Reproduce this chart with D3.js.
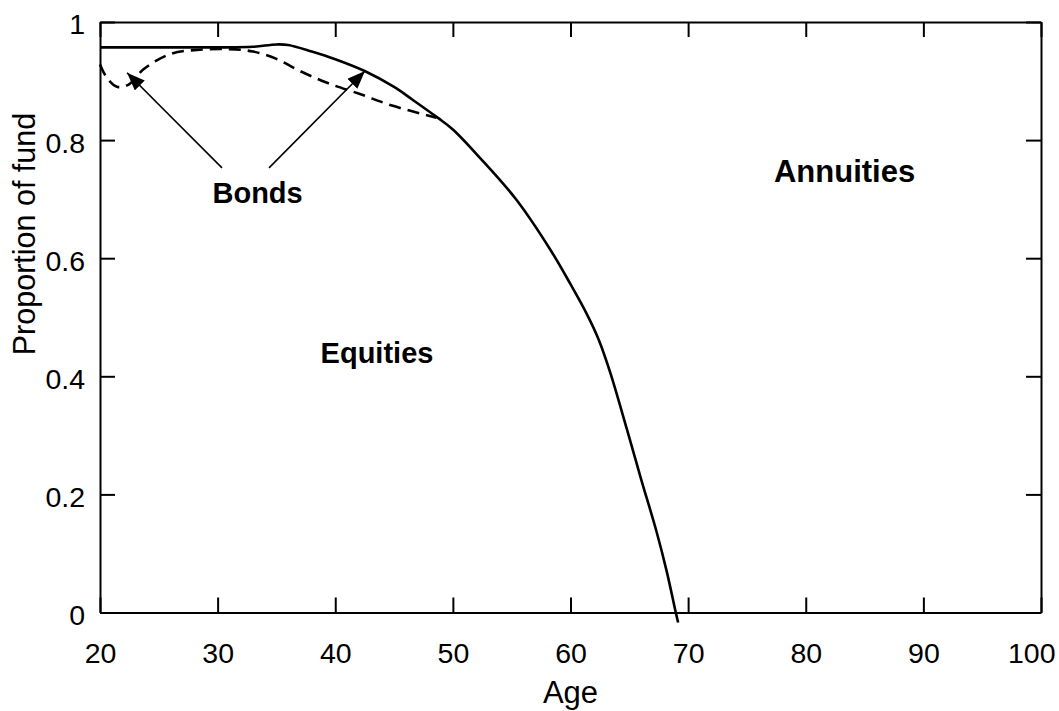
<!DOCTYPE html>
<html>
<head>
<meta charset="utf-8">
<script src="https://cdn.jsdelivr.net/npm/d3@7"></script>
<style>
  html, body { margin: 0; padding: 0; background: #fff; }
  svg text { font-family: "Liberation Sans", Arial, Helvetica, sans-serif; fill: #000; }
</style>
</head>
<body>
<svg id="chart" width="1059" height="711"></svg>
<script>
// ---- data ----
const equityAges   = [20, 25, 30, 33, 35, 36, 38, 40, 42.5, 45, 46.6, 48.7, 50, 52.3, 55.4, 58.3, 60, 61.4, 62.4, 63.4, 64.8, 66, 67.3, 68.2, 68.95, 69.15];
const equityShare  = [0.957, 0.957, 0.957, 0.958, 0.962, 0.961, 0.95, 0.937, 0.917, 0.89, 0.868, 0.838, 0.818, 0.770, 0.699, 0.614, 0.556, 0.505, 0.462, 0.405, 0.31, 0.226, 0.138, 0.068, 0.0, -0.017];
const bondAges     = [20, 20.6, 21.5, 22.5, 23.7, 26, 28.5, 31, 33, 35, 37, 39.3, 42.1, 44.9, 48.6];
const bondShare    = [0.928, 0.905, 0.890, 0.895, 0.920, 0.946, 0.953, 0.954, 0.950, 0.9375, 0.917, 0.897, 0.878, 0.858, 0.838];
const xTicks       = [20, 30, 40, 50, 60, 70, 80, 90, 100];
const xTickLabels  = ["20", "30", "40", "50", "60", "70", "80", "90", "100"];
const yTicks       = [0, 0.2, 0.4, 0.6, 0.8, 1];
const yTickLabels  = ["0", "0.2", "0.4", "0.6", "0.8", "1"];
// arrows: [tailAge, tailValue, tipAge, tipValue]
const arrows       = [[30.37, 0.753, 22.3, 0.914], [34.37, 0.753, 42.53, 0.917]];
// region labels: [text, age, value]
const regionLabels = [["Bonds", 33.4, 0.693], ["Equities", 43.55, 0.4225], ["Annuities", 83.3, 0.729]];

// ---- layout ----
const svg = d3.select("#chart");
const mLeft = 100, mRight = 1041, mTop = 22, mBottom = 612.5;
const x = d3.scaleLinear().domain([20, 100]).range([mLeft, mRight]);
const y = d3.scaleLinear().domain([0, 1]).range([mBottom, mTop]);
const tickLen = 15;

// axes
const xb = svg.append("g").attr("transform", `translate(0,${mBottom})`)
  .call(d3.axisBottom(x).tickValues(xTicks).tickFormat((d, i) => xTickLabels[i])
        .tickSizeInner(-tickLen).tickSizeOuter(0).tickPadding(30));
const yl = svg.append("g").attr("transform", `translate(${mLeft},0)`)
  .call(d3.axisLeft(y).tickValues(yTicks).tickFormat((d, i) => yTickLabels[i])
        .tickSizeInner(-tickLen).tickSizeOuter(0).tickPadding(15));
const xt = svg.append("g").attr("transform", `translate(0,${mTop})`)
  .call(d3.axisTop(x).tickValues(xTicks).tickFormat("").tickSizeInner(-tickLen).tickSizeOuter(0));
const yr = svg.append("g").attr("transform", `translate(${mRight},0)`)
  .call(d3.axisRight(y).tickValues(yTicks).tickFormat("").tickSizeInner(-tickLen).tickSizeOuter(0));

[xb, yl, xt, yr].forEach(g => {
  g.selectAll("path.domain").attr("stroke", "#000").attr("stroke-width", 2);
  g.selectAll(".tick line").attr("stroke", "#000").attr("stroke-width", 2);
  g.selectAll(".tick text").attr("font-size", 28.5).attr("font-family", "Liberation Sans, Arial, sans-serif").attr("fill", "#000");
});
yl.selectAll(".tick text").attr("dy", "0.42em");
// keep the last x label inside the page
xb.selectAll(".tick text").filter(d => d === 100).attr("text-anchor", "end").attr("x", 14);

// axis titles
svg.append("text").attr("x", (mLeft + mRight) / 2).attr("y", 703).attr("text-anchor", "middle")
  .attr("font-size", 31).text("Age");
svg.append("text").attr("transform", `translate(35,${234}) rotate(-90)`).attr("text-anchor", "middle")
  .attr("font-size", 30.5).text("Proportion of fund");

// lines
const line = d3.line().x(d => x(d[0])).y(d => y(d[1])).curve(d3.curveCatmullRom.alpha(0.5));
svg.append("path").datum(equityAges.map((a, i) => [a, equityShare[i]]))
  .attr("d", line).attr("fill", "none").attr("stroke", "#000").attr("stroke-width", 2.6);
svg.append("path").datum(bondAges.map((a, i) => [a, bondShare[i]]))
  .attr("d", line).attr("fill", "none").attr("stroke", "#000").attr("stroke-width", 2.6)
  .attr("stroke-dasharray", "12,7");

// arrows
svg.append("defs").append("marker").attr("id", "ah")
  .attr("viewBox", "0 0 18 14").attr("refX", 18).attr("refY", 7)
  .attr("markerWidth", 18).attr("markerHeight", 14).attr("markerUnits", "userSpaceOnUse")
  .attr("orient", "auto")
  .append("path").attr("d", "M0,0 L18,7 L0,14 Z").attr("fill", "#000");
svg.selectAll("line.arrow").data(arrows).enter().append("line").attr("class", "arrow")
  .attr("x1", d => x(d[0])).attr("y1", d => y(d[1]))
  .attr("x2", d => x(d[2])).attr("y2", d => y(d[3]))
  .attr("stroke", "#000").attr("stroke-width", 1.6).attr("marker-end", "url(#ah)");

// region labels
svg.selectAll("text.region").data(regionLabels).enter().append("text").attr("class", "region")
  .attr("x", d => x(d[1])).attr("y", d => y(d[2])).attr("text-anchor", "middle")
  .attr("font-size", d => d[0] === "Annuities" ? 31 : 29).attr("font-weight", "bold")
  .text(d => d[0]);
</script>
</body>
</html>
